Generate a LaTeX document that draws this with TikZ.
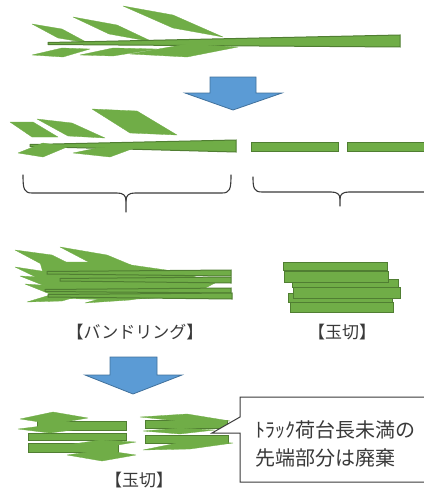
\documentclass[tikz,border=0pt]{standalone}
\usepackage{fontspec}
\newfontfamily\jp{Noto Sans CJK JP}
\definecolor{leaf}{HTML}{70AD47}
\definecolor{leafedge}{HTML}{507E32}
\definecolor{arrowfill}{HTML}{5B9BD5}
\definecolor{arrowedge}{HTML}{41719C}
\definecolor{ink}{HTML}{3A3A3A}
\tikzset{
  blade/.style={fill=leaf, draw=leaf, line width=0.3pt, line join=round},
  stalk/.style={fill=leaf, draw=leafedge, line width=1pt, line join=miter},
  piece/.style={fill=leaf, draw=leafedge, line width=1pt},
  flow/.style={fill=arrowfill, draw=arrowedge, line width=0.8pt, line join=miter},
  brace/.style={draw=ink, line width=1.1pt, line cap=round},
  label/.style={text=ink, font=\jp\fontsize{17}{19}\selectfont, inner sep=0pt},
  note/.style={text=ink, font=\jp\fontsize{20}{28}\selectfont, align=left, inner sep=0pt},
}
\begin{document}
\begin{tikzpicture}[x=1pt,y=-1pt]
\useasboundingbox (0,0) rectangle (423,495);

% ---------- whole leek ----------
\fill[blade] (32,24) -- (62,29) -- (88,43) -- (58,38) -- cycle;
\fill[blade] (73,17) -- (117,25) -- (153,42) -- (109,34) -- cycle;
\fill[blade] (123,6) -- (173,15) -- (223,37) -- (173,28) -- cycle;
\draw[stalk] (48,42.5) -- (400,35) -- (400,47) -- (48,44.5) -- cycle;
\fill[blade] (32,55) -- (62,48) -- (90,49) -- (63,57) -- cycle;
\fill[blade] (80,55) -- (113,48) -- (157,49) -- (113,56) -- cycle;
\fill[blade] (130,54) -- (187,44) -- (238,47) -- (187,57) -- cycle;

% ---------- arrow 1 ----------
\draw[flow] (210,77) -- (256,77) -- (256,93) -- (282,93) -- (233,110)
  -- (185,93) -- (210,93) -- cycle;

% ---------- leek cut into parts ----------
\fill[blade] (10,122) -- (33,122) -- (58,137) -- (32,137) -- cycle;
\fill[blade] (37,119) -- (72,123) -- (105,138) -- (68,136) -- cycle;
\fill[blade] (92,109) -- (137,111) -- (177,135) -- (130,133) -- cycle;
\draw[stalk] (30,144.5) -- (236,140) -- (236,152) -- (30,146.5) -- cycle;
\fill[blade] (18,153) -- (43,143) -- (67,147) -- (43,157) -- cycle;
\fill[blade] (73,153) -- (97,148) -- (137,147) -- (110,157) -- cycle;
\draw[piece] (251,142) rectangle (338,151);
\draw[piece] (347,142) rectangle (430,151);

% ---------- braces ----------
\draw[brace] (23,175) .. controls (23,189) and (24,193) .. (32,193) -- (117,193)
  .. controls (123,193) and (126,195) .. (126,201) -- (126,212);
\draw[brace] (126,201) .. controls (126,195) and (129,193) .. (135,193) -- (222,193)
  .. controls (230,193) and (231,189) .. (231,175);
\draw[brace] (253,177) .. controls (253,188) and (254,192) .. (262,192) -- (331,192)
  .. controls (337,192) and (340,194) .. (340,199) -- (340,206);
\draw[brace] (340,199) .. controls (340,194) and (343,192) .. (349,192) -- (425,192);

% ---------- bundled leeks ----------
\fill[blade] (15,250) -- (52,255) -- (82,270) -- (45,266) -- cycle;
\fill[blade] (60,247) -- (107,255) -- (148,272) -- (100,268) -- cycle;
\fill[blade] (15,267) -- (48,272) -- (85,283) -- (42,280) -- cycle;
\fill[blade] (20,276) -- (58,278) -- (100,290) -- (55,290) -- cycle;
\fill[blade] (25,284) -- (55,286) -- (92,296) -- (50,294) -- cycle;
\fill[blade] (40,262) -- (110,262) -- (180,272) -- (215,283) -- (190,296)
  -- (120,300) -- (50,298) -- cycle;
\fill[blade] (27,302) -- (60,292) -- (100,290) -- (62,301) -- cycle;
\fill[blade] (85,303) -- (120,293) -- (178,290) -- (130,300) -- cycle;
\draw[stalk] (47,271.5) -- (231,270) -- (231,276) -- (47,274) -- cycle;
\draw[stalk] (60,278.5) -- (231,277) -- (231,283) -- (60,281) -- cycle;
\draw[stalk] (45,289.5) -- (231,288) -- (231,293) -- (45,291.5) -- cycle;
\draw[stalk] (48,294.5) -- (232,293) -- (232,299) -- (48,297) -- cycle;

% ---------- stacked pieces ----------
\draw[piece] (288,293) rectangle (392,302);
\draw[piece] (292,279) rectangle (398,287);
\draw[piece] (283,262) rectangle (387,270);
\draw[piece] (284,271) rectangle (388,282);
\draw[piece] (293,287) rectangle (400,298);
\draw[piece] (290,302) rectangle (393,312);

\node[label] (lbundle) at (135,332.5) {【バンドリング】};
\node[label] (lcut) at (342,332.5) {【玉切】};

% ---------- arrow 2 ----------
\draw[flow] (110,357) -- (157,357) -- (157,375) -- (182,375) -- (133,394)
  -- (85,375) -- (110,375) -- cycle;

% ---------- cut pieces, tips discarded ----------
\draw[piece] (37,421) rectangle (126,430);
\draw[piece] (28,433) rectangle (126,440);
\draw[piece] (28,443) rectangle (118,452);
\fill[blade] (20,419) -- (53,412) -- (88,418) -- (53,424) -- cycle;
\fill[blade] (18,429) -- (50,425) -- (95,427) -- (50,433) -- cycle;
\fill[blade] (60,446) -- (100,440) -- (136,442) -- (100,448) -- cycle;
\fill[blade] (67,455) -- (102,450) -- (136,455) -- (102,461) -- cycle;

\draw[piece] (145,420) rectangle (227,428);
\draw[piece] (145,435) rectangle (228,443);
\fill[blade] (140,417) -- (187,414) -- (230,421) -- (187,422) -- cycle;
\fill[blade] (143,431) -- (180,428) -- (215,430) -- (180,434) -- cycle;
\fill[blade] (143,450) -- (187,441) -- (233,443) -- (190,449) -- cycle;

% ---------- callout ----------
\draw[fill=white, draw=ink, line width=1pt, line join=miter]
  (425,397) -- (240,397) -- (240,417) -- (212,433) -- (240,433) -- (240,482) -- (425,482);
\node[note, anchor=west] (note1) at (255,430) {ﾄﾗｯｸ荷台長未満の};
\node[note, anchor=west] (note2) at (255,458) {先端部分は廃棄};

\node[label] (lcut2) at (139,480) {【玉切】};
\end{tikzpicture}
\end{document}
